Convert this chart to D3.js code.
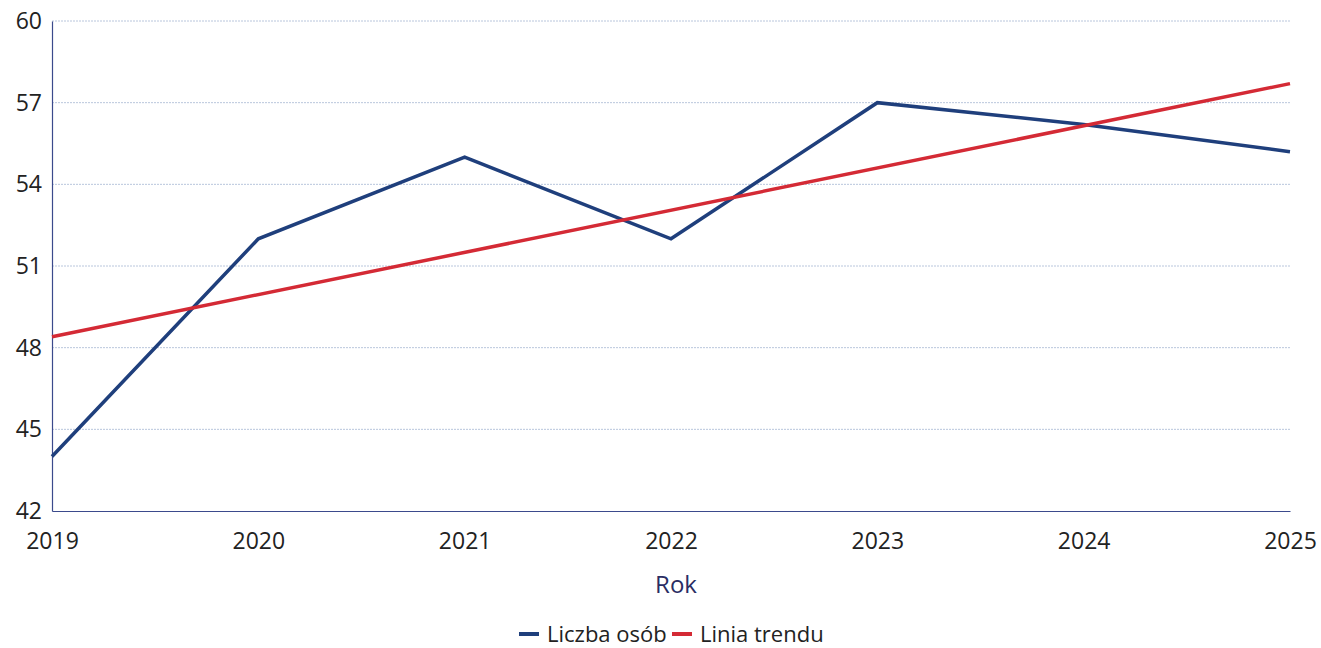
<!DOCTYPE html>
<html><head><meta charset="utf-8">
<script src="https://cdn.jsdelivr.net/npm/d3@7"></script>
<style>
body{margin:0;background:#fff;}
svg{display:block;font-family:"Open Sans",sans-serif;}
</style></head>
<body>
<svg id="c" width="1321" height="648"></svg>
<script>
const years = [2019, 2020, 2021, 2022, 2023, 2024, 2025];
const liczbaOsob = [44, 52, 55, 52, 57, 56.2, 55.2];
const trendYears = [2019, 2025];
const liniaTrendu = [48.4, 57.7];
const yTicks = [42, 45, 48, 51, 54, 57, 60];
const seriesNames = ["Liczba osób", "Linia trendu"];
const seriesColors = ["#1f3f7c", "#d42a35"];

const svg = d3.select("#c");
const m = {l: 52, r: 31, t: 21, b: 137};
const W = 1321, H = 648;
const x = d3.scaleLinear().domain([2019, 2025]).range([m.l, W - m.r]);
const y = d3.scaleLinear().domain([42, 60]).range([H - m.b, m.t]);

// gridlines
svg.append("g").selectAll("line").data(yTicks.filter(d => d !== 42)).join("line")
  .attr("x1", m.l).attr("x2", W - m.r)
  .attr("y1", d => y(d)).attr("y2", d => y(d))
  .attr("stroke", "#b9c6dc").attr("stroke-width", 1).attr("stroke-dasharray", "2,1");

// y axis
const ya = svg.append("g").attr("transform", `translate(${m.l},0)`)
  .call(d3.axisLeft(y).tickValues(yTicks).tickSize(0).tickPadding(10));
ya.select(".domain").attr("stroke", "#3b4a8c").attr("stroke-width", 1.2);
ya.selectAll("text").attr("font-size", 23).attr("fill", "#222").attr("font-family", "'Open Sans',sans-serif");

// x axis
const xa = svg.append("g").attr("transform", `translate(0,${y(42)})`)
  .call(d3.axisBottom(x).tickValues(years).tickFormat(d3.format("d")).tickSize(0).tickPadding(22));
xa.select(".domain").attr("stroke", "#3b4a8c").attr("stroke-width", 1.2);
xa.selectAll("text").attr("font-size", 23).attr("fill", "#222").attr("font-family", "'Open Sans',sans-serif");

// axis title
svg.append("text").attr("x", (m.l + W - m.r) / 2 + 5).attr("y", 593)
  .attr("text-anchor", "middle").attr("font-size", 24).attr("fill", "#2a2d63").text("Rok");

const line = d3.line().x(d => x(d[0])).y(d => y(d[1]));

svg.append("path").datum(years.map((d, i) => [d, liczbaOsob[i]]))
  .attr("d", line).attr("fill", "none").attr("stroke", seriesColors[0])
  .attr("stroke-width", 3.5).attr("stroke-linejoin", "miter");

svg.append("path").datum(trendYears.map((d, i) => [d, liniaTrendu[i]]))
  .attr("d", line).attr("fill", "none").attr("stroke", seriesColors[1])
  .attr("stroke-width", 3.5);

// legend
const lg = svg.append("g");
const items = [{x: 519, name: seriesNames[0], c: seriesColors[0]}, {x: 672, name: seriesNames[1], c: seriesColors[1]}];
items.forEach(it => {
  lg.append("line").attr("x1", it.x).attr("x2", it.x + 20).attr("y1", 634).attr("y2", 634)
    .attr("stroke", it.c).attr("stroke-width", 4);
  lg.append("text").attr("x", it.x + 28).attr("y", 642).attr("font-size", 22).attr("fill", "#222").text(it.name);
});
</script>
</body></html>
